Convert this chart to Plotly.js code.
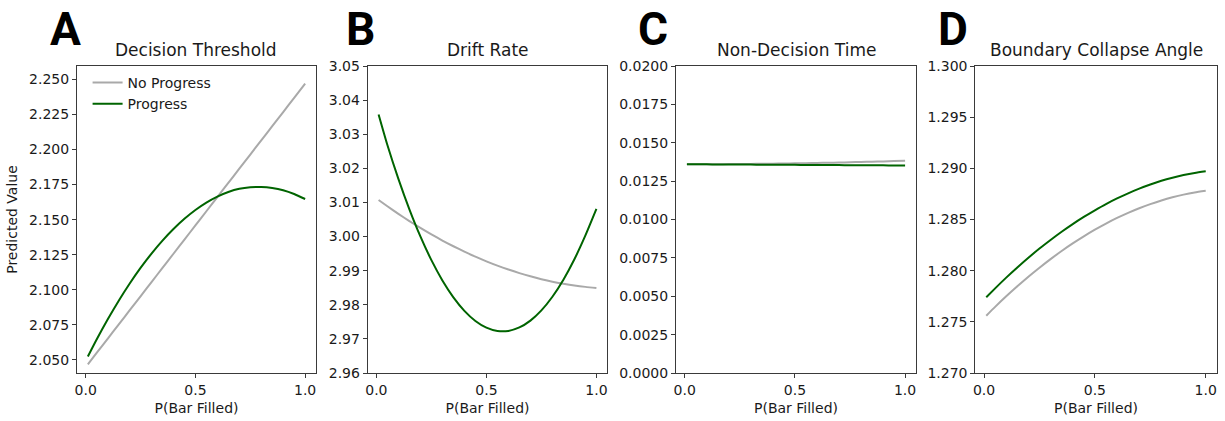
<!DOCTYPE html>
<html>
<head>
<meta charset="utf-8">
<script src="https://cdn.plot.ly/plotly-3.0.1.min.js"></script>
<style>html,body{margin:0;padding:0;background:#fff;}#chart{width:1225px;height:421px;}</style>
</head>
<body>
<div id="chart"></div>
<script>
// P(Bar Filled) grid
const pBarFilled = [0.01, 0.05, 0.10, 0.15, 0.20, 0.25, 0.30, 0.35, 0.40, 0.45, 0.50,
                    0.55, 0.60, 0.65, 0.70, 0.75, 0.80, 0.85, 0.90, 0.95, 1.00];

// Panel A: Decision Threshold
const thresholdNoProgress = [2.04690, 2.05498, 2.06508, 2.07518, 2.08528, 2.09538, 2.10549, 2.11559, 2.12569, 2.13579, 2.14589,
                             2.15599, 2.16609, 2.17619, 2.18629, 2.19639, 2.20650, 2.21660, 2.22670, 2.23680, 2.24690];
const thresholdProgress   = [2.05242, 2.06453, 2.07878, 2.09204, 2.10430, 2.11557, 2.12583, 2.13510, 2.14336, 2.15063, 2.15690,
                             2.16217, 2.16645, 2.16972, 2.17200, 2.17310, 2.17330, 2.17260, 2.17100, 2.16830, 2.16470];

// Panel B: Drift Rate
const driftNoProgress = [3.01072, 3.00887, 3.00665, 3.00454, 3.00253, 3.00063, 2.99884, 2.99716, 2.99558, 2.99410, 2.99274,
                         2.99148, 2.99033, 2.98928, 2.98834, 2.98751, 2.98678, 2.98617, 2.98565, 2.98525, 2.98495];
const driftProgress   = [3.03580, 3.02684, 3.01691, 3.00798, 3.00004, 2.99309, 2.98714, 2.98219, 2.97823, 2.97526, 2.97329,
                         2.97232, 2.97234, 2.97335, 2.97536, 2.97836, 2.98236, 2.98736, 2.99335, 3.00033, 3.00810];

// Panel C: Non-Decision Time
const ndtNoProgress = [0.013600, 0.013601, 0.013602, 0.013605, 0.013609, 0.013614, 0.013621, 0.013628, 0.013637, 0.013647, 0.013658,
                       0.013670, 0.013683, 0.013697, 0.013713, 0.013729, 0.013747, 0.013766, 0.013786, 0.013808, 0.013830];
const ndtProgress   = [0.013599, 0.013596, 0.013592, 0.013588, 0.013584, 0.013580, 0.013576, 0.013572, 0.013568, 0.013564, 0.013560,
                       0.013556, 0.013552, 0.013548, 0.013544, 0.013540, 0.013536, 0.013532, 0.013528, 0.013524, 0.013520];

// Panel D: Boundary Collapse Angle
const angleNoProgress = [1.27560, 1.27646, 1.27749, 1.27847, 1.27941, 1.28029, 1.28113, 1.28192, 1.28266, 1.28335, 1.28400,
                         1.28460, 1.28515, 1.28565, 1.28610, 1.28650, 1.28686, 1.28717, 1.28743, 1.28764, 1.28780];
const angleProgress   = [1.27740, 1.27827, 1.27932, 1.28031, 1.28126, 1.28216, 1.28300, 1.28380, 1.28455, 1.28525, 1.28590,
                         1.28651, 1.28706, 1.28756, 1.28802, 1.28842, 1.28878, 1.28908, 1.28934, 1.28955, 1.28971];

const panelTitles = ["Decision Threshold", "Drift Rate", "Non-Decision Time", "Boundary Collapse Angle"];
const panelLetters = ["A", "B", "C", "D"];
const seriesNames = ["No Progress", "Progress"];
const xTitle = "P(Bar Filled)";
const yTitle = "Predicted Value";

(function () {
const W = 1225, H = 421;
const grayColor = "#a9a9a9", greenColor = "#006400";
const txt = "#1a1a1a", axisCol = "#3a3a3a";
const fontFam = "DejaVu Sans, sans-serif";

const panels = [
  {no: thresholdNoProgress, pr: thresholdProgress, left: 77, right: 316, yr: [2.0407, 2.2595], tick0: 2.05, dtick: 0.025, fmt: ".3f", letterX: 65},
  {no: driftNoProgress, pr: driftProgress, left: 367.7, right: 607.3, yr: [2.96, 3.05], tick0: 2.96, dtick: 0.01, fmt: ".2f", letterX: 360},
  {no: ndtNoProgress, pr: ndtProgress, left: 676, right: 916, yr: [0, 0.02], tick0: 0, dtick: 0.0025, fmt: ".4f", letterX: 653},
  {no: angleNoProgress, pr: angleProgress, left: 975.3, right: 1216.7, yr: [1.27, 1.30], tick0: 1.27, dtick: 0.005, fmt: ".3f", letterX: 953}
];

const plotTop = 66, plotBottom = 373;
const yDom = [1 - plotBottom / H, 1 - plotTop / H];

const data = [];
const layout = {
  width: W, height: H,
  margin: {l: 0, r: 0, t: 0, b: 0},
  paper_bgcolor: "#fff", plot_bgcolor: "#fff",
  font: {family: fontFam, size: 14, color: txt},
  showlegend: true,
  legend: {
    x: 0.0715, y: 1 - 67 / H, xanchor: "left", yanchor: "top",
    bgcolor: "rgba(255,255,255,0)", borderwidth: 0,
    font: {family: fontFam, size: 14, color: txt},
    tracegroupgap: 0
  },
  annotations: []
};

panels.forEach((p, i) => {
  const n = i + 1;
  const xa = "x" + (n === 1 ? "" : n), ya = "y" + (n === 1 ? "" : n);
  data.push({x: pBarFilled, y: p.no, xaxis: xa, yaxis: ya, type: "scatter", mode: "lines",
    name: seriesNames[0], line: {color: grayColor, width: 2, shape: "spline", smoothing: 0.6}, showlegend: i === 0, legendgroup: "no"});
  data.push({x: pBarFilled, y: p.pr, xaxis: xa, yaxis: ya, type: "scatter", mode: "lines",
    name: seriesNames[1], line: {color: greenColor, width: 2, shape: "spline", smoothing: 0.6}, showlegend: i === 0, legendgroup: "pr"});
  const xDom = [p.left / W, p.right / W];
  const xKey = "xaxis" + (n === 1 ? "" : n), yKey = "yaxis" + (n === 1 ? "" : n);
  layout[xKey] = {
    domain: xDom, anchor: ya, range: [-0.0395, 1.0495], tick0: 0, dtick: 0.5, tickformat: ".1f",
    showgrid: false, zeroline: false, showline: true, mirror: true, linecolor: axisCol, linewidth: 1,
    ticks: "outside", ticklen: 4, tickcolor: axisCol, tickfont: {family: fontFam, size: 14, color: txt},
    title: {text: xTitle, font: {family: fontFam, size: 14, color: txt}, standoff: 6}
  };
  layout[yKey] = {
    domain: yDom, anchor: xa, range: p.yr, tick0: p.tick0, dtick: p.dtick, tickformat: p.fmt,
    showgrid: false, zeroline: false, showline: true, mirror: true, linecolor: axisCol, linewidth: 1,
    ticks: "outside", ticklen: 4, tickcolor: axisCol, tickfont: {family: fontFam, size: 14, color: txt}
  };
  if (i === 0) {
    layout[yKey].title = {text: yTitle, font: {family: fontFam, size: 14, color: txt}, standoff: 8};
  }
  layout.annotations.push({
    text: panelTitles[i], xref: "paper", yref: "paper", x: (xDom[0] + xDom[1]) / 2, y: 1 - 50 / H,
    xanchor: "center", yanchor: "middle", showarrow: false, font: {family: fontFam, size: 17, color: txt}
  });
  layout.annotations.push({
    text: "<b>" + panelLetters[i] + "</b>", xref: "paper", yref: "paper", x: p.letterX / W, y: 1,
    xanchor: "center", yanchor: "top", showarrow: false,
    font: {family: "Roboto, sans-serif", size: 46, color: "#000"}
  });
});

Plotly.newPlot("chart", data, layout, {displayModeBar: false, staticPlot: true});
})();
</script>
</body>
</html>
